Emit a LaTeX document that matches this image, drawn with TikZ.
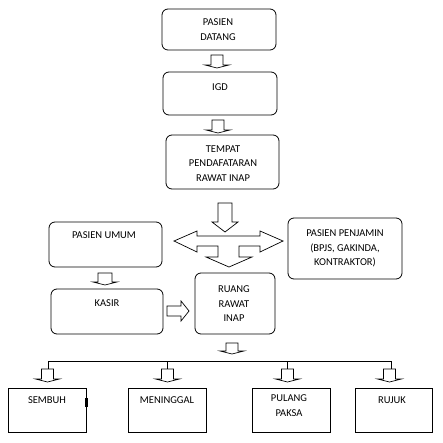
\documentclass[tikz,border=0pt]{standalone}
\usepackage{fontspec}
\setmainfont{Carlito}
\newcommand\dnarrow[6]{\draw[blk] ({#1-#5},#2) -- ({#1+#5},#2) -- ({#1+#5},#3) -- ({#1+#6},#3) -- (#1,#4) -- ({#1-#6},#3) -- ({#1-#5},#3) -- cycle;}
\begin{document}
\begin{tikzpicture}[x=1pt,y=-1pt,
  rbox/.style={draw, line width=0.8pt, rounded corners=6pt, inner sep=0pt},
  sbox/.style={draw, line width=0.8pt, inner sep=0pt},
  txt/.style={font=\fontsize{10.5}{14.5}\selectfont, align=center, inner sep=0pt, anchor=north},
  blk/.style={draw, line width=0.7pt, fill=white, line join=miter},
  bus/.style={draw, line width=0.8pt}]
\useasboundingbox[fill=white] (0,0) rectangle (443,443);
% boxes
\node[rbox, minimum width=114pt, minimum height=41pt] (datang) at (219,29.5) {};
\node[rbox, minimum width=114pt, minimum height=43pt] (igd) at (220,93.5) {};
\node[rbox, minimum width=113pt, minimum height=54pt] (tempat) at (222.5,162) {};
\node[rbox, minimum width=113pt, minimum height=45pt] (umum) at (105.5,244.5) {};
\node[rbox, minimum width=114pt, minimum height=61pt] (penjamin) at (345,248.5) {};
\node[rbox, minimum width=112pt, minimum height=45pt] (kasir) at (107,311.5) {};
\node[rbox, minimum width=80pt, minimum height=61pt] (ruang) at (235,303.5) {};
\node[sbox, minimum width=78pt, minimum height=44pt] (sembuh) at (47,410) {};
\node[sbox, minimum width=78pt, minimum height=44pt] (meninggal) at (167,410) {};
\node[sbox, minimum width=78pt, minimum height=44pt] (pulang) at (291,410) {};
\node[sbox, minimum width=77pt, minimum height=44pt] (rujuk) at (393.5,410) {};
\fill (85,398) rectangle (87.5,407);
% texts
\node[txt] (t-datang) at (218,18.6) {PASIEN\\DATANG};
\node[txt] (t-igd) at (220,83.8) {IGD};
\node[txt] (t-tempat) at (223,145.1) {TEMPAT\\PENDAFATARAN\\RAWAT INAP};
\node[txt] (t-umum) at (104,231.6) {PASIEN UMUM};
\node[txt] (t-penjamin) at (345,229.6) {PASIEN PENJAMIN\\(BPJS, GAKINDA,\\KONTRAKTOR)};
\node[txt] (t-kasir) at (107,299.6) {KASIR};
\node[txt] (t-ruang) at (234,285.6) {RUANG\\RAWAT\\INAP};
\node[txt] (t-sembuh) at (47,396.6) {SEMBUH};
\node[txt] (t-meninggal) at (167,396.6) {MENINGGAL};
\node[txt] (t-pulang) at (289,394.6) {PULANG\\PAKSA};
\node[txt] (t-rujuk) at (392,396.6) {RUJUK};
% block arrows
\dnarrow{217}{55}{65}{68}{6}{12}
\dnarrow{218}{120}{130}{133}{6}{12}
\dnarrow{225}{203}{222}{232}{7}{13}
\draw[blk] (174,241) -- (197,231) -- (197,236) -- (260,236) -- (260,231) -- (283,241) -- (260,252) -- (260,246) -- (239,246) -- (239,257) -- (252,257) -- (229,267) -- (206,257) -- (218,257) -- (218,246) -- (197,246) -- (197,252) -- cycle;
\dnarrow{105}{273}{282}{285}{7}{12}
\draw[blk] (167,306) -- (181,306) -- (181,301) -- (189,311) -- (181,321) -- (181,316) -- (167,316) -- cycle;
\dnarrow{232}{343}{351}{354}{6}{12}
% bus
\coordinate (b1) at (48,361);
\coordinate (b2) at (167,361);
\coordinate (b3) at (287,361);
\coordinate (b4) at (391,361);
\coordinate (d1) at (48,369);
\coordinate (d2) at (167,369);
\coordinate (d3) at (287,369);
\coordinate (d4) at (391,369);
\draw[bus] (b1) -- (b4);
\draw[bus] (b1) -- (d1);
\draw[bus] (b2) -- (d2);
\draw[bus] (b3) -- (d3);
\draw[bus] (b4) -- (d4);
\dnarrow{47.5}{369}{379}{382}{6}{12}
\dnarrow{167.5}{369}{379}{382}{6}{12}
\dnarrow{287.5}{369}{379}{382}{6}{12}
\dnarrow{389.5}{369}{379}{382}{6}{12}
\end{tikzpicture}
\end{document}
